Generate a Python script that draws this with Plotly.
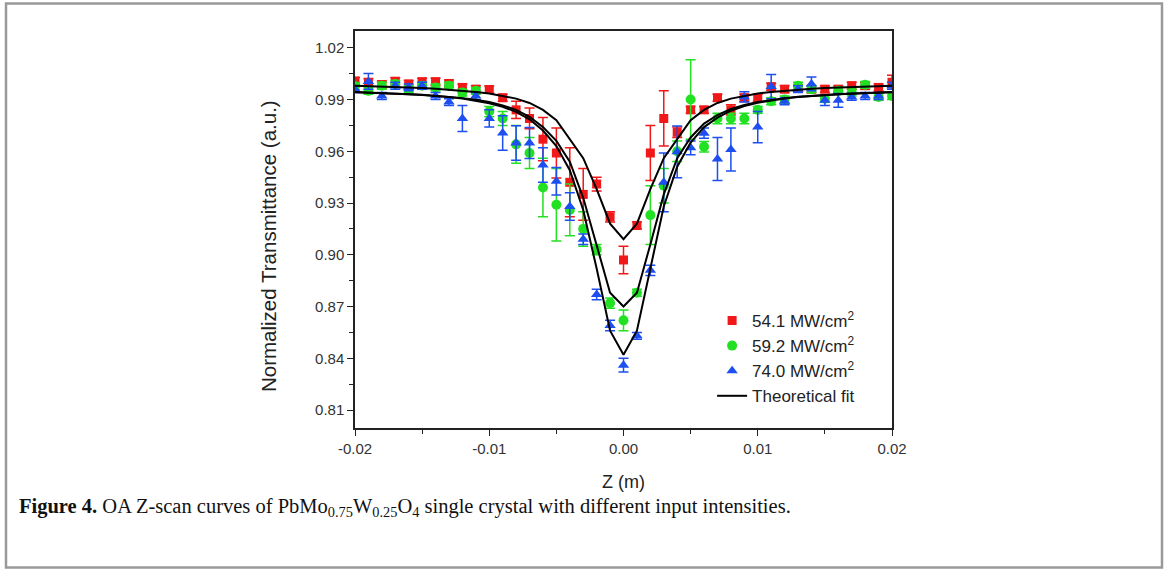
import plotly.graph_objects as go

# Z positions (m)
z_m = [-0.020, -0.019, -0.018, -0.017, -0.016, -0.015, -0.014, -0.013, -0.012, -0.011,
       -0.010, -0.009, -0.008, -0.007, -0.006, -0.005, -0.004, -0.003, -0.002, -0.001,
       0.000, 0.001, 0.002, 0.003, 0.004, 0.005, 0.006, 0.007, 0.008, 0.009,
       0.010, 0.011, 0.012, 0.013, 0.014, 0.015, 0.016, 0.017, 0.018, 0.019, 0.020]

# 54.1 MW/cm2
t_541 = [1.0007, 1.000, 0.9987, 1.0006, 0.999, 1.0003, 1.0003, 0.9993, 0.997, 0.996,
         0.9958, 0.991, 0.984, 0.979, 0.967, 0.959, 0.942, 0.935, 0.941, 0.922,
         0.897, 0.917, 0.959, 0.979, 0.971, 0.984, 0.984, 0.991, 0.984, 0.991,
         0.991, 0.9974, 0.996, 0.9965, 0.996, 0.996, 0.996, 0.998, 0.998, 0.997, 1.000]
e_541 = [0.002, 0.002, 0.002, 0.002, 0.002, 0.002, 0.002, 0.002, 0.002, 0.002,
         0.002, 0.002, 0.005, 0.006, 0.0125, 0.0145, 0.020, 0.015, 0.004, 0.003,
         0.008, 0.002, 0.016, 0.016, 0.003, 0.002, 0.002, 0.002, 0.003, 0.002,
         0.002, 0.002, 0.002, 0.002, 0.002, 0.002, 0.002, 0.002, 0.002, 0.002, 0.004]

# 59.2 MW/cm2
t_592 = [0.9977, 0.995, 0.998, 0.999, 0.996, 0.998, 0.997, 0.998, 0.994, 0.995,
         0.983, 0.979, 0.964, 0.959, 0.939, 0.929, 0.926, 0.915, 0.903, 0.872,
         0.862, 0.878, 0.923, 0.940, 0.960, 0.990, 0.9626, 0.979, 0.979, 0.979,
         0.984, 0.989, 0.990, 0.998, 0.996, 0.9905, 0.995, 0.994, 0.9985, 0.9915, 0.992]
e_592 = [0.002, 0.002, 0.002, 0.002, 0.002, 0.002, 0.002, 0.002, 0.002, 0.002,
         0.003, 0.004, 0.011, 0.009, 0.017, 0.021, 0.015, 0.010, 0.003, 0.003,
         0.006, 0.002, 0.017, 0.010, 0.006, 0.023, 0.003, 0.003, 0.003, 0.003,
         0.002, 0.002, 0.002, 0.002, 0.002, 0.002, 0.002, 0.002, 0.002, 0.002, 0.002]

# 74.0 MW/cm2
t_740 = [0.996, 1.0005, 0.992, 0.998, 0.997, 0.998, 0.992, 0.9885, 0.979, 0.992,
         0.979, 0.9706, 0.9648, 0.9648, 0.952, 0.9426, 0.928, 0.909, 0.877, 0.859,
         0.836, 0.853, 0.891, 0.942, 0.9597, 0.962, 0.9705, 0.9555, 0.961, 0.9915,
         0.974, 0.9975, 0.989, 0.996, 0.999, 0.9895, 0.9895, 0.9915, 0.992, 0.992, 0.998]
e_740 = [0.002, 0.0045, 0.002, 0.002, 0.002, 0.002, 0.002, 0.002, 0.0075, 0.002,
         0.005, 0.010, 0.010, 0.009, 0.010, 0.008, 0.008, 0.003, 0.003, 0.003,
         0.004, 0.002, 0.003, 0.017, 0.015, 0.004, 0.003, 0.0125, 0.0125, 0.003,
         0.009, 0.007, 0.002, 0.002, 0.004, 0.003, 0.004, 0.002, 0.002, 0.002, 0.002]

# theoretical fits
fit_541 = [0.9979, 0.9977, 0.9975, 0.9972, 0.9969, 0.9966, 0.9962, 0.9957, 0.9951, 0.9944,
           0.9935, 0.9922, 0.9905, 0.988, 0.984, 0.978, 0.967, 0.956, 0.938, 0.918,
           0.909, 0.918, 0.938, 0.956, 0.967, 0.978, 0.984, 0.988, 0.9905, 0.9922,
           0.9935, 0.9944, 0.9951, 0.9957, 0.9962, 0.9966, 0.9969, 0.9972, 0.9975, 0.9977, 0.9979]
fit_592 = [0.9943, 0.9941, 0.9938, 0.9935, 0.9931, 0.9927, 0.9922, 0.9916, 0.9908, 0.9898,
           0.9885, 0.9866, 0.9840, 0.980, 0.974, 0.966, 0.954, 0.933, 0.905, 0.878,
           0.870, 0.878, 0.906, 0.935, 0.956, 0.968, 0.976, 0.981, 0.9845, 0.9868,
           0.9885, 0.9898, 0.9908, 0.9916, 0.9922, 0.9927, 0.9931, 0.9935, 0.9938, 0.9941, 0.9943]
fit_740 = [0.9942, 0.994, 0.9937, 0.9934, 0.9931, 0.9926, 0.9921, 0.9914, 0.9906, 0.9893,
           0.9878, 0.9858, 0.9828, 0.9785, 0.972, 0.963, 0.949, 0.926, 0.892, 0.856,
           0.842, 0.856, 0.893, 0.928, 0.951, 0.965, 0.974, 0.9795, 0.9835, 0.9862,
           0.9881, 0.9895, 0.9906, 0.9914, 0.9921, 0.9926, 0.9931, 0.9934, 0.9937, 0.994, 0.9942]

y_ticks = [0.81, 0.84, 0.87, 0.90, 0.93, 0.96, 0.99, 1.02]
x_ticks = [-0.02, -0.01, 0.00, 0.01, 0.02]
x_ticktext = ["-0.02", "-0.01", "0.00", "0.01", "0.02"]

series = [
    ("54.1 MW/cm<sup>2</sup>", t_541, e_541, "#F01818", "square", 9),
    ("59.2 MW/cm<sup>2</sup>", t_592, e_592, "#22E022", "circle", 10),
    ("74.0 MW/cm<sup>2</sup>", t_740, e_740, "#1C4EF0", "triangle-up", 10),
]

fig = go.Figure()

for name, vals, errs, color, symbol, size in series:
    fig.add_trace(go.Scatter(
        x=z_m, y=vals, mode="markers", name=name,
        marker=dict(symbol=symbol, size=size, color=color),
        error_y=dict(type="data", array=errs, visible=True,
                     color=color, thickness=1.5, width=5),
    ))

for i, fit in enumerate([fit_541, fit_592, fit_740]):
    fig.add_trace(go.Scatter(
        x=z_m, y=fit, mode="lines", name="Theoretical fit",
        line=dict(color="black", width=2),
        showlegend=(i == 0),
    ))

axis_common = dict(
    showline=True, linecolor="#222", linewidth=1.5, mirror=True,
    ticks="outside", ticklen=6, tickwidth=1.2, tickcolor="#222",
    showgrid=False, zeroline=False,
    tickfont=dict(family="Liberation Sans, Arial", size=15, color="#333"),
)

fig.update_xaxes(
    range=[-0.02, 0.02], tickvals=x_ticks, ticktext=x_ticktext,
    minor=dict(dtick=0.005, ticks="outside", ticklen=4, tickcolor="#222"),
    title=dict(text="Z (m)", standoff=20,
               font=dict(family="Liberation Sans Narrow, Arial Narrow, Liberation Sans",
                         size=18, color="#222")),
    **axis_common,
)
fig.update_yaxes(
    range=[0.7996, 1.0297], tickvals=y_ticks, tickformat=".2f",
    minor=dict(tickvals=[0.825, 0.855, 0.885, 0.915, 0.945, 0.975, 1.005],
               ticks="outside", ticklen=4, tickcolor="#222"),
    **axis_common,
)

fig.update_layout(
    width=1165, height=569,
    margin=dict(l=355, r=273, t=31, b=141),
    paper_bgcolor="white", plot_bgcolor="white",
    showlegend=True,
    legend=dict(x=0.665, y=0.315, xanchor="left", yanchor="top",
                bgcolor="rgba(0,0,0,0)", tracegroupgap=0,
                font=dict(family="Liberation Sans, Arial", size=17, color="#222")),
)

# y-axis title, centred a little below the plot middle as in the original
fig.add_annotation(
    xref="paper", yref="paper",
    x=(268 - 355) / 537, y=(428 - 246) / 397,
    xanchor="center", yanchor="middle", showarrow=False, textangle=-90,
    text="Normalized Transmittance (a.u.)",
    font=dict(family="Liberation Sans, Arial", size=20.5, color="#222"),
)

# outer figure frame
fig.add_shape(type="rect", xref="paper", yref="paper",
              x0=(6 - 355) / 537, x1=(1162 - 355) / 537,
              y0=(428 - 567.5) / 397, y1=(428 - 3.5) / 397,
              line=dict(color="#999", width=2.5), layer="below")

fig.add_annotation(
    xref="paper", yref="paper",
    x=(17 - 355) / 537, y=(428 - 507) / 397,
    xanchor="left", yanchor="middle", showarrow=False,
    text="<b>Figure 4.</b> OA Z-scan curves of PbMo<sub>0.75</sub>W<sub>0.25</sub>O<sub>4</sub>"
         " single crystal with different input intensities.",
    font=dict(family="Liberation Serif, Times New Roman", size=20.5, color="#111"),
)

fig.write_html("out.html", config={"displayModeBar": False},
               post_script="document.body.style.margin='0px';")
